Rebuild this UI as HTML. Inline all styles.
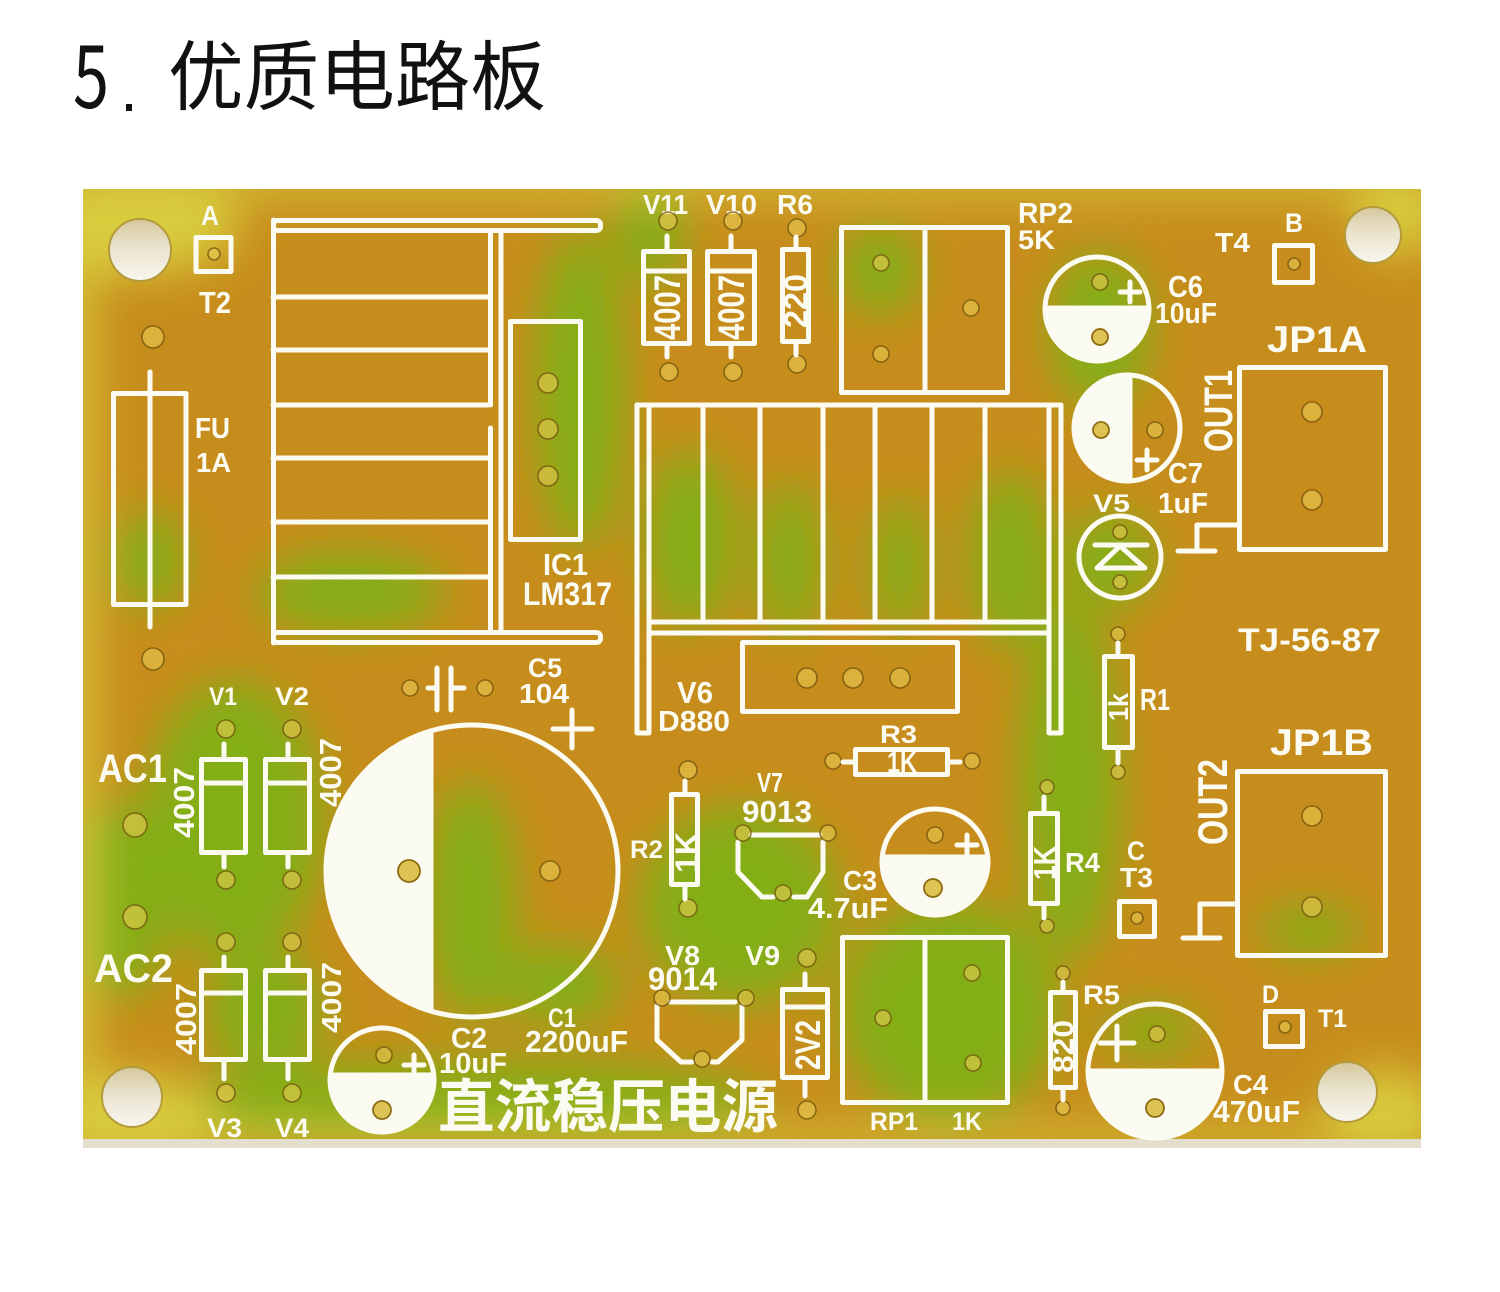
<!DOCTYPE html>
<html><head><meta charset="utf-8">
<style>
html,body{margin:0;padding:0;background:#fff;}
svg{display:block;}
.s{fill:none;stroke:#fcfbf2;stroke-width:5;stroke-linecap:round;stroke-linejoin:round;}
.w{fill:#fcfbf2;}
.t{fill:#fcfbf2;font-family:"Liberation Sans","DejaVu Sans",sans-serif;font-weight:bold;}
.h{fill:rgba(236,208,88,0.55);stroke:rgba(105,75,10,0.7);stroke-width:1.6;}
.hw{fill:#dcc354;stroke:#8d6a10;stroke-width:1.8;}
</style></head>
<body>
<svg width="1500" height="1292" viewBox="0 0 1500 1292" xmlns="http://www.w3.org/2000/svg">
<defs>
<filter id="bl" x="-20%" y="-20%" width="140%" height="140%"><feGaussianBlur stdDeviation="22"/></filter>
<clipPath id="board"><rect x="83" y="189" width="1338" height="950"/></clipPath>
<linearGradient id="mh" x1="0" y1="0" x2="0" y2="1">
<stop offset="0" stop-color="#d6c79c"/><stop offset="0.45" stop-color="#e9e2cc"/><stop offset="1" stop-color="#f8f6ef"/></linearGradient>
</defs>

<!-- Title -->
<text x="73" y="108" font-family="'Noto Sans CJK SC','Liberation Sans',sans-serif" font-size="88" fill="#111" textLength="36" lengthAdjust="spacingAndGlyphs">5</text>
<rect x="126" y="104" width="6" height="7" fill="#111"/>
<text x="168" y="104" font-family="'Liberation Sans','Noto Sans CJK SC',sans-serif" font-size="76" fill="#111" textLength="378" lengthAdjust="spacingAndGlyphs">优质电路板</text>

<!-- Board base -->
<rect x="83" y="189" width="1338" height="959" fill="#e4dfcc"/>
<rect x="83" y="189" width="1338" height="950" fill="#c78d1c"/>
<g clip-path="url(#board)">
<g filter="url(#bl)">
<g fill="#84ae18">
<ellipse cx="580" cy="390" rx="45" ry="160"/>
<ellipse cx="650" cy="235" rx="35" ry="50"/>
<ellipse cx="690" cy="540" rx="45" ry="90"/>
<ellipse cx="790" cy="560" rx="32" ry="80"/>
<ellipse cx="900" cy="565" rx="28" ry="70"/>
<ellipse cx="1010" cy="560" rx="40" ry="90"/>
<ellipse cx="350" cy="592" rx="95" ry="40"/>
<ellipse cx="150" cy="560" rx="35" ry="50"/>
<ellipse cx="235" cy="820" rx="90" ry="140"/>
<ellipse cx="125" cy="900" rx="45" ry="100"/>
<ellipse cx="470" cy="900" rx="45" ry="120"/>
<ellipse cx="560" cy="985" rx="60" ry="40"/>
<ellipse cx="740" cy="905" rx="100" ry="100"/>
<ellipse cx="950" cy="1010" rx="110" ry="110"/>
<ellipse cx="1070" cy="780" rx="50" ry="180"/>
<ellipse cx="1110" cy="560" rx="45" ry="50"/>
<ellipse cx="1100" cy="330" rx="50" ry="80"/>
<ellipse cx="880" cy="270" rx="40" ry="45"/>
<ellipse cx="470" cy="1100" rx="300" ry="40"/>
<ellipse cx="1150" cy="1030" rx="50" ry="25"/>
<ellipse cx="1310" cy="930" rx="50" ry="25"/>
<ellipse cx="265" cy="1010" rx="60" ry="60"/>
</g>
<g fill="#d8cc3c">
<rect x="60" y="170" width="1380" height="24"/>
<ellipse cx="130" cy="225" rx="110" ry="50"/>
<ellipse cx="130" cy="1120" rx="90" ry="45"/>
<ellipse cx="1385" cy="1115" rx="60" ry="45"/>
<ellipse cx="1400" cy="215" rx="45" ry="40"/>
<rect x="60" y="189" width="32" height="960"/>
<rect x="60" y="1128" width="1380" height="20"/>
</g>
</g>
</g>
<rect x="83" y="1139" width="1338" height="9" fill="#e4dfcc"/>

<!-- Mounting holes -->
<circle cx="140" cy="250" r="31" fill="url(#mh)" stroke="#b39a3a" stroke-width="2"/>
<circle cx="1373" cy="235" r="28" fill="url(#mh)" stroke="#b39a3a" stroke-width="2"/>
<circle cx="132" cy="1097" r="30" fill="url(#mh)" stroke="#b39a3a" stroke-width="2"/>
<circle cx="1347" cy="1092" r="30" fill="url(#mh)" stroke="#b39a3a" stroke-width="2"/>

<!-- Loose holes -->
<circle class="h" cx="153" cy="337" r="11"/>
<circle class="h" cx="153" cy="659" r="11"/>
<circle class="h" cx="135" cy="825" r="12"/>
<circle class="h" cx="135" cy="917" r="12"/>

<!-- T2 / A -->
<rect class="s" x="196" y="237.5" width="35" height="34"/>
<circle class="h" cx="214" cy="254" r="6"/>
<text class="t" x="201" y="225" font-size="28" textLength="18" lengthAdjust="spacingAndGlyphs">A</text>
<text class="t" x="199" y="313" font-size="30.5" textLength="32" lengthAdjust="spacingAndGlyphs">T2</text>

<!-- Fuse -->
<rect class="s" x="113.5" y="393.5" width="72.5" height="211"/>
<line class="s" x1="150" y1="372" x2="150" y2="627"/>
<text class="t" x="195" y="438" font-size="29" textLength="35" lengthAdjust="spacingAndGlyphs">FU</text>
<text class="t" x="196" y="472" font-size="28" textLength="35" lengthAdjust="spacingAndGlyphs">1A</text>

<!-- IC1 heatsink -->
<rect class="s" x="273.5" y="220.5" width="327" height="10" rx="4"/>
<rect class="s" x="273.5" y="632.5" width="327" height="10" rx="4"/>
<line class="s" x1="273.5" y1="220" x2="273.5" y2="643"/>
<line class="s" x1="490.5" y1="233" x2="490.5" y2="405"/>
<line class="s" x1="490.5" y1="428" x2="490.5" y2="630"/>
<line class="s" x1="501" y1="233" x2="501" y2="630"/>
<g class="s">
<line x1="273" y1="297" x2="488" y2="297"/>
<line x1="273" y1="350" x2="488" y2="350"/>
<line x1="273" y1="405" x2="488" y2="405"/>
<line x1="273" y1="458" x2="488" y2="458"/>
<line x1="273" y1="522" x2="488" y2="522"/>
<line x1="273" y1="577" x2="488" y2="577"/>
</g>
<rect class="s" x="510.5" y="321.5" width="70" height="218"/>
<circle class="h" cx="548" cy="383" r="10"/>
<circle class="h" cx="548" cy="429" r="10"/>
<circle class="h" cx="548" cy="476" r="10"/>
<text class="t" x="543" y="575" font-size="30.5" textLength="45" lengthAdjust="spacingAndGlyphs">IC1</text>
<text class="t" x="523" y="605" font-size="32" textLength="89" lengthAdjust="spacingAndGlyphs">LM317</text>

<!-- V11 V10 R6 -->
<text class="t" x="643" y="214" font-size="28" textLength="45" lengthAdjust="spacingAndGlyphs">V11</text>
<text class="t" x="706" y="214" font-size="28" textLength="51" lengthAdjust="spacingAndGlyphs">V10</text>
<text class="t" x="777" y="214" font-size="28" textLength="36" lengthAdjust="spacingAndGlyphs">R6</text>
<circle class="h" cx="668" cy="221" r="9"/>
<circle class="h" cx="669" cy="372" r="9"/>
<circle class="h" cx="733" cy="221" r="9"/>
<circle class="h" cx="733" cy="372" r="9"/>
<circle class="h" cx="797" cy="228" r="9"/>
<circle class="h" cx="797" cy="364" r="9"/>
<rect class="s" x="643.5" y="251.5" width="46" height="92"/>
<line class="s" x1="644" y1="271" x2="689" y2="271"/>
<line class="s" x1="667" y1="236" x2="667" y2="250"/>
<line class="s" x1="667" y1="345" x2="667" y2="357"/>
<rect class="s" x="707.5" y="251.5" width="47" height="92"/>
<line class="s" x1="708" y1="271" x2="754" y2="271"/>
<line class="s" x1="731" y1="236" x2="731" y2="250"/>
<line class="s" x1="731" y1="345" x2="731" y2="357"/>
<rect class="s" x="782.5" y="249.5" width="26" height="92"/>
<line class="s" x1="796" y1="237" x2="796" y2="248"/>
<line class="s" x1="796" y1="343" x2="796" y2="355"/>
<text class="t" transform="translate(680,340) rotate(-90)" font-size="37" textLength="65" lengthAdjust="spacingAndGlyphs">4007</text>
<text class="t" transform="translate(744,340) rotate(-90)" font-size="37" textLength="65" lengthAdjust="spacingAndGlyphs">4007</text>
<text class="t" transform="translate(807,328) rotate(-90)" font-size="32" textLength="54" lengthAdjust="spacingAndGlyphs">220</text>

<!-- RP2 -->
<rect class="s" x="841.5" y="227.5" width="166" height="165"/>
<line class="s" x1="925" y1="228" x2="925" y2="392"/>
<circle class="h" cx="881" cy="263" r="8"/>
<circle class="h" cx="881" cy="354" r="8"/>
<circle class="h" cx="971" cy="308" r="8"/>
<text class="t" x="1018" y="223" font-size="29" textLength="55" lengthAdjust="spacingAndGlyphs">RP2</text>
<text class="t" x="1018" y="249" font-size="26.5" textLength="37" lengthAdjust="spacingAndGlyphs">5K</text>

<!-- T4 / B -->
<text class="t" x="1215" y="252" font-size="28" textLength="35" lengthAdjust="spacingAndGlyphs">T4</text>
<text class="t" x="1285" y="232" font-size="26.5" textLength="18" lengthAdjust="spacingAndGlyphs">B</text>
<rect class="s" x="1274.5" y="245.5" width="38" height="37"/>
<circle class="h" cx="1294" cy="264" r="6"/>

<!-- C6 -->
<path class="w" d="M1045 309 A52 52 0 0 0 1149 309 Z"/>
<circle class="s" cx="1097" cy="309" r="52"/>
<line class="s" x1="1046" y1="308" x2="1148" y2="308"/>
<circle class="h" cx="1100" cy="282" r="8"/>
<circle class="hw" cx="1100" cy="337" r="8"/>
<path class="s" d="M1120 292 H1140 M1130 282 V302"/>
<text class="t" x="1168" y="297" font-size="30.5" textLength="35" lengthAdjust="spacingAndGlyphs">C6</text>
<text class="t" x="1155" y="323" font-size="29" textLength="62" lengthAdjust="spacingAndGlyphs">10uF</text>

<!-- C7 -->
<path class="w" d="M1130 375.1 A53 53 0 1 0 1130 480.9 Z"/>
<circle class="s" cx="1127" cy="428" r="53"/>
<line class="s" x1="1130" y1="376" x2="1130" y2="480"/>
<circle class="hw" cx="1101" cy="430" r="8"/>
<circle class="h" cx="1155" cy="430" r="8"/>
<path class="s" d="M1137 460 H1157 M1147 450 V470"/>
<text class="t" x="1168" y="483" font-size="29" textLength="35" lengthAdjust="spacingAndGlyphs">C7</text>
<text class="t" x="1158" y="513" font-size="29" textLength="50" lengthAdjust="spacingAndGlyphs">1uF</text>

<!-- JP1A -->
<text class="t" x="1267" y="352" font-size="37.5" textLength="100" lengthAdjust="spacingAndGlyphs">JP1A</text>
<rect class="s" x="1239.5" y="367.5" width="146" height="182"/>
<circle class="h" cx="1312" cy="412" r="10"/>
<circle class="h" cx="1312" cy="500" r="10"/>
<path class="s" d="M1238 525 H1197 V551 M1178 551 H1215"/>
<text class="t" transform="translate(1232,452) rotate(-90)" font-size="40" textLength="82" lengthAdjust="spacingAndGlyphs">OUT1</text>

<!-- V5 -->
<text class="t" x="1093" y="512" font-size="25" textLength="37" lengthAdjust="spacingAndGlyphs">V5</text>
<circle class="s" cx="1120" cy="557" r="41"/>
<circle class="h" cx="1120" cy="532" r="7"/>
<circle class="h" cx="1120" cy="582" r="7"/>
<path class="s" d="M1095 545 H1147 M1120 546 L1097 568 H1145 Z"/>

<text class="t" x="1238" y="651" font-size="32" textLength="143" lengthAdjust="spacingAndGlyphs">TJ-56-87</text>

<!-- V6 heatsink -->
<g class="s">
<line x1="637" y1="405" x2="1061" y2="405"/>
<path d="M637 405 V733 H649 V408"/>
<path d="M1061 405 V733 H1049 V408"/>
<line x1="703" y1="407" x2="703" y2="622"/>
<line x1="760" y1="407" x2="760" y2="622"/>
<line x1="823" y1="407" x2="823" y2="622"/>
<line x1="875" y1="407" x2="875" y2="622"/>
<line x1="932" y1="407" x2="932" y2="622"/>
<line x1="985" y1="407" x2="985" y2="622"/>
<line x1="649" y1="622" x2="1049" y2="622"/>
<line x1="649" y1="633" x2="1049" y2="633"/>
</g>
<rect class="s" x="742.5" y="642.5" width="215" height="69"/>
<circle class="h" cx="807" cy="678" r="10"/>
<circle class="h" cx="853" cy="678" r="10"/>
<circle class="h" cx="900" cy="678" r="10"/>
<text class="t" x="677" y="703" font-size="30.5" textLength="36" lengthAdjust="spacingAndGlyphs">V6</text>
<text class="t" x="658" y="731" font-size="29" textLength="72" lengthAdjust="spacingAndGlyphs">D880</text>

<!-- C5 -->
<circle class="h" cx="410" cy="688" r="8"/>
<circle class="h" cx="485" cy="688" r="8"/>
<path class="s" d="M428 688 H437 M437 668 V710 M451 668 V710 M451 688 H464"/>
<text class="t" x="528" y="677" font-size="26.5" textLength="34" lengthAdjust="spacingAndGlyphs">C5</text>
<text class="t" x="519" y="703" font-size="28" textLength="50" lengthAdjust="spacingAndGlyphs">104</text>
<path class="s" d="M553 729 H592 M572 710 V748"/>

<!-- C1 -->
<path class="w" d="M431 730.9 A146 146 0 0 0 431 1011.1 Z"/>
<circle class="s" cx="472" cy="871" r="146"/>
<line class="s" x1="431" y1="731" x2="431" y2="1011"/>
<circle class="hw" cx="409" cy="871" r="11"/>
<circle class="h" cx="550" cy="871" r="10"/>
<text class="t" x="548" y="1027" font-size="26.5" textLength="28" lengthAdjust="spacingAndGlyphs">C1</text>
<text class="t" x="525" y="1052" font-size="30.5" textLength="103" lengthAdjust="spacingAndGlyphs">2200uF</text>

<!-- V1 V2 -->
<text class="t" x="209" y="705" font-size="25" textLength="28" lengthAdjust="spacingAndGlyphs">V1</text>
<text class="t" x="275" y="705" font-size="25" textLength="34" lengthAdjust="spacingAndGlyphs">V2</text>
<circle class="h" cx="226" cy="729" r="9"/>
<circle class="h" cx="292" cy="729" r="9"/>
<circle class="h" cx="226" cy="880" r="9"/>
<circle class="h" cx="292" cy="880" r="9"/>
<rect class="s" x="201.5" y="759.5" width="44" height="93"/>
<line class="s" x1="202" y1="783" x2="245" y2="783"/>
<line class="s" x1="224" y1="744" x2="224" y2="758"/>
<line class="s" x1="224" y1="854" x2="224" y2="867"/>
<rect class="s" x="265.5" y="759.5" width="44" height="93"/>
<line class="s" x1="266" y1="783" x2="309" y2="783"/>
<line class="s" x1="288" y1="744" x2="288" y2="758"/>
<line class="s" x1="288" y1="854" x2="288" y2="867"/>
<text class="t" x="98" y="782" font-size="40" textLength="69" lengthAdjust="spacingAndGlyphs">AC1</text>
<text class="t" transform="translate(194,838) rotate(-90)" font-size="29" textLength="71" lengthAdjust="spacingAndGlyphs">4007</text>
<text class="t" transform="translate(341,807) rotate(-90)" font-size="30.5" textLength="69" lengthAdjust="spacingAndGlyphs">4007</text>

<!-- V3 V4 -->
<circle class="h" cx="226" cy="942" r="9"/>
<circle class="h" cx="292" cy="942" r="9"/>
<circle class="h" cx="226" cy="1093" r="9"/>
<circle class="h" cx="292" cy="1093" r="9"/>
<rect class="s" x="201.5" y="970.5" width="44" height="89"/>
<line class="s" x1="202" y1="993" x2="245" y2="993"/>
<line class="s" x1="224" y1="957" x2="224" y2="969"/>
<line class="s" x1="224" y1="1061" x2="224" y2="1079"/>
<rect class="s" x="265.5" y="970.5" width="44" height="89"/>
<line class="s" x1="266" y1="993" x2="309" y2="993"/>
<line class="s" x1="288" y1="957" x2="288" y2="969"/>
<line class="s" x1="288" y1="1061" x2="288" y2="1079"/>
<text class="t" x="94" y="982" font-size="40" textLength="79" lengthAdjust="spacingAndGlyphs">AC2</text>
<text class="t" transform="translate(196,1055) rotate(-90)" font-size="29" textLength="72" lengthAdjust="spacingAndGlyphs">4007</text>
<text class="t" transform="translate(341,1033) rotate(-90)" font-size="28" textLength="71" lengthAdjust="spacingAndGlyphs">4007</text>
<text class="t" x="207" y="1137" font-size="26.5" textLength="35" lengthAdjust="spacingAndGlyphs">V3</text>
<text class="t" x="275" y="1137" font-size="26.5" textLength="34" lengthAdjust="spacingAndGlyphs">V4</text>

<!-- C2 -->
<path class="w" d="M330.2 1075 A52 52 0 1 0 433.8 1075 Z"/>
<circle class="s" cx="382" cy="1080" r="52"/>
<line class="s" x1="331" y1="1075" x2="433" y2="1075"/>
<circle class="h" cx="384" cy="1055" r="8"/>
<circle class="hw" cx="382" cy="1110" r="9"/>
<path class="s" d="M404 1065 H424 M414 1055 V1075"/>
<text class="t" x="451" y="1048" font-size="29" textLength="36" lengthAdjust="spacingAndGlyphs">C2</text>
<text class="t" x="439" y="1073" font-size="29" textLength="68" lengthAdjust="spacingAndGlyphs">10uF</text>

<text x="438" y="1127" font-family="'Noto Sans CJK SC','Noto Serif CJK SC',sans-serif" font-weight="bold" font-size="58" fill="#fcfbf2" textLength="340" lengthAdjust="spacingAndGlyphs">直流稳压电源</text>

<!-- R3 -->
<text class="t" x="880" y="743" font-size="25" textLength="37" lengthAdjust="spacingAndGlyphs">R3</text>
<circle class="h" cx="833" cy="761" r="8"/>
<circle class="h" cx="972" cy="761" r="8"/>
<rect class="s" x="855.5" y="749.5" width="92" height="25"/>
<path class="s" d="M843 762 H854 M949 762 H960"/>
<text class="t" x="887" y="772" font-size="29" textLength="30" lengthAdjust="spacingAndGlyphs">1K</text>

<!-- R2 -->
<circle class="h" cx="688" cy="770" r="9"/>
<circle class="h" cx="688" cy="908" r="9"/>
<rect class="s" x="671.5" y="794.5" width="26" height="90"/>
<path class="s" d="M685 781 V793 M685 886 V899"/>
<text class="t" transform="translate(698,873) rotate(-90)" font-size="32" textLength="41" lengthAdjust="spacingAndGlyphs">1K</text>
<text class="t" x="630" y="858" font-size="25" textLength="33" lengthAdjust="spacingAndGlyphs">R2</text>

<!-- V7 -->
<text class="t" x="757" y="792" font-size="28" textLength="26" lengthAdjust="spacingAndGlyphs">V7</text>
<text class="t" x="742" y="822" font-size="30.5" textLength="70" lengthAdjust="spacingAndGlyphs">9013</text>
<path class="s" d="M751 835 H820 M738 842 V872 L762 897 H773 M794 897 H807 L823 872 V842"/>
<circle class="h" cx="743" cy="833" r="8"/>
<circle class="h" cx="828" cy="833" r="8"/>
<circle class="h" cx="783" cy="893" r="8"/>

<!-- C3 -->
<path class="w" d="M882.2 857 A53 53 0 1 0 987.8 857 Z"/>
<circle class="s" cx="935" cy="862" r="53"/>
<line class="s" x1="883" y1="857" x2="987" y2="857"/>
<circle class="h" cx="935" cy="835" r="8"/>
<circle class="hw" cx="933" cy="888" r="9"/>
<path class="s" d="M957 845 H977 M967 835 V855"/>
<text class="t" x="843" y="890" font-size="28" textLength="34" lengthAdjust="spacingAndGlyphs">C3</text>
<text class="t" x="808" y="918" font-size="29" textLength="80" lengthAdjust="spacingAndGlyphs">4.7uF</text>

<!-- V8 -->
<text class="t" x="665" y="965" font-size="28" textLength="35" lengthAdjust="spacingAndGlyphs">V8</text>
<text class="t" x="648" y="990" font-size="32" textLength="69" lengthAdjust="spacingAndGlyphs">9014</text>
<path class="s" d="M670 1002 H735 M657 1006 V1040 L681 1062 H692 M712 1062 H718 L742 1040 V1006"/>
<circle class="h" cx="662" cy="998" r="8"/>
<circle class="h" cx="746" cy="998" r="8"/>
<circle class="h" cx="702" cy="1059" r="8"/>

<!-- V9 -->
<text class="t" x="745" y="965" font-size="28" textLength="35" lengthAdjust="spacingAndGlyphs">V9</text>
<circle class="h" cx="807" cy="958" r="9"/>
<circle class="h" cx="807" cy="1110" r="9"/>
<rect class="s" x="782.5" y="989.5" width="45" height="88"/>
<line class="s" x1="783" y1="1007" x2="827" y2="1007"/>
<path class="s" d="M805 974 V988 M805 1079 V1096"/>
<text class="t" transform="translate(820,1070) rotate(-90)" font-size="35" textLength="50" lengthAdjust="spacingAndGlyphs">2V2</text>

<!-- RP1 -->
<rect class="s" x="842.5" y="937.5" width="165" height="165"/>
<line class="s" x1="925" y1="938" x2="925" y2="1102"/>
<circle class="h" cx="883" cy="1018" r="8"/>
<circle class="h" cx="972" cy="973" r="8"/>
<circle class="h" cx="973" cy="1063" r="8"/>
<text class="t" x="870" y="1130" font-size="25" textLength="48" lengthAdjust="spacingAndGlyphs">RP1</text>
<text class="t" x="952" y="1130" font-size="25" textLength="30" lengthAdjust="spacingAndGlyphs">1K</text>

<!-- R1 -->
<circle class="h" cx="1118" cy="634" r="7"/>
<circle class="h" cx="1118" cy="772" r="7"/>
<rect class="s" x="1104.5" y="656.5" width="28" height="91"/>
<path class="s" d="M1118 643 V655 M1118 749 V763"/>
<text class="t" transform="translate(1128,721) rotate(-90)" font-size="28" textLength="28" lengthAdjust="spacingAndGlyphs">1k</text>
<text class="t" x="1140" y="710" font-size="30.5" textLength="30" lengthAdjust="spacingAndGlyphs">R1</text>

<!-- JP1B -->
<text class="t" x="1270" y="755" font-size="37.5" textLength="103" lengthAdjust="spacingAndGlyphs">JP1B</text>
<rect class="s" x="1237.5" y="771.5" width="148" height="184"/>
<circle class="h" cx="1312" cy="816" r="10"/>
<circle class="h" cx="1312" cy="907" r="10"/>
<path class="s" d="M1236 904 H1200 V938 M1183 938 H1220"/>
<text class="t" transform="translate(1227,845) rotate(-90)" font-size="41.5" textLength="86" lengthAdjust="spacingAndGlyphs">OUT2</text>

<!-- R4 -->
<circle class="h" cx="1047" cy="787" r="7"/>
<circle class="h" cx="1047" cy="926" r="7"/>
<rect class="s" x="1030.5" y="813.5" width="27" height="90"/>
<path class="s" d="M1044 797 V812 M1044 905 V918"/>
<text class="t" transform="translate(1055,880) rotate(-90)" font-size="30.5" textLength="34" lengthAdjust="spacingAndGlyphs">1K</text>
<text class="t" x="1065" y="872" font-size="28" textLength="35" lengthAdjust="spacingAndGlyphs">R4</text>

<!-- T3 / C -->
<text class="t" x="1127" y="860" font-size="26.5" textLength="18" lengthAdjust="spacingAndGlyphs">C</text>
<text class="t" x="1120" y="887" font-size="28" textLength="33" lengthAdjust="spacingAndGlyphs">T3</text>
<rect class="s" x="1119.5" y="901.5" width="35" height="35"/>
<circle class="h" cx="1137" cy="918" r="6"/>

<!-- R5 -->
<circle class="h" cx="1063" cy="973" r="7"/>
<circle class="h" cx="1063" cy="1108" r="7"/>
<rect class="s" x="1050.5" y="992.5" width="25" height="95"/>
<path class="s" d="M1063 982 V991 M1063 1089 V1100"/>
<text class="t" transform="translate(1073,1073) rotate(-90)" font-size="29" textLength="53" lengthAdjust="spacingAndGlyphs">820</text>
<text class="t" x="1083" y="1004" font-size="26.5" textLength="37" lengthAdjust="spacingAndGlyphs">R5</text>

<!-- C4 -->
<path class="w" d="M1088 1071 A67 67 0 0 0 1222 1071 Z"/>
<circle class="s" cx="1155" cy="1071" r="67"/>
<line class="s" x1="1089" y1="1071" x2="1221" y2="1071"/>
<circle class="h" cx="1157" cy="1034" r="8"/>
<circle class="hw" cx="1155" cy="1108" r="9"/>
<path class="s" d="M1100 1043 H1134 M1117 1026 V1060"/>
<text class="t" x="1233" y="1094" font-size="28" textLength="35" lengthAdjust="spacingAndGlyphs">C4</text>
<text class="t" x="1213" y="1122" font-size="30.5" textLength="87" lengthAdjust="spacingAndGlyphs">470uF</text>

<!-- T1 / D -->
<text class="t" x="1262" y="1003" font-size="25" textLength="17" lengthAdjust="spacingAndGlyphs">D</text>
<rect class="s" x="1265.5" y="1011.5" width="37" height="35"/>
<circle class="h" cx="1285" cy="1027" r="6"/>
<text class="t" x="1318" y="1027" font-size="25" textLength="29" lengthAdjust="spacingAndGlyphs">T1</text>

</svg>
</body></html>
